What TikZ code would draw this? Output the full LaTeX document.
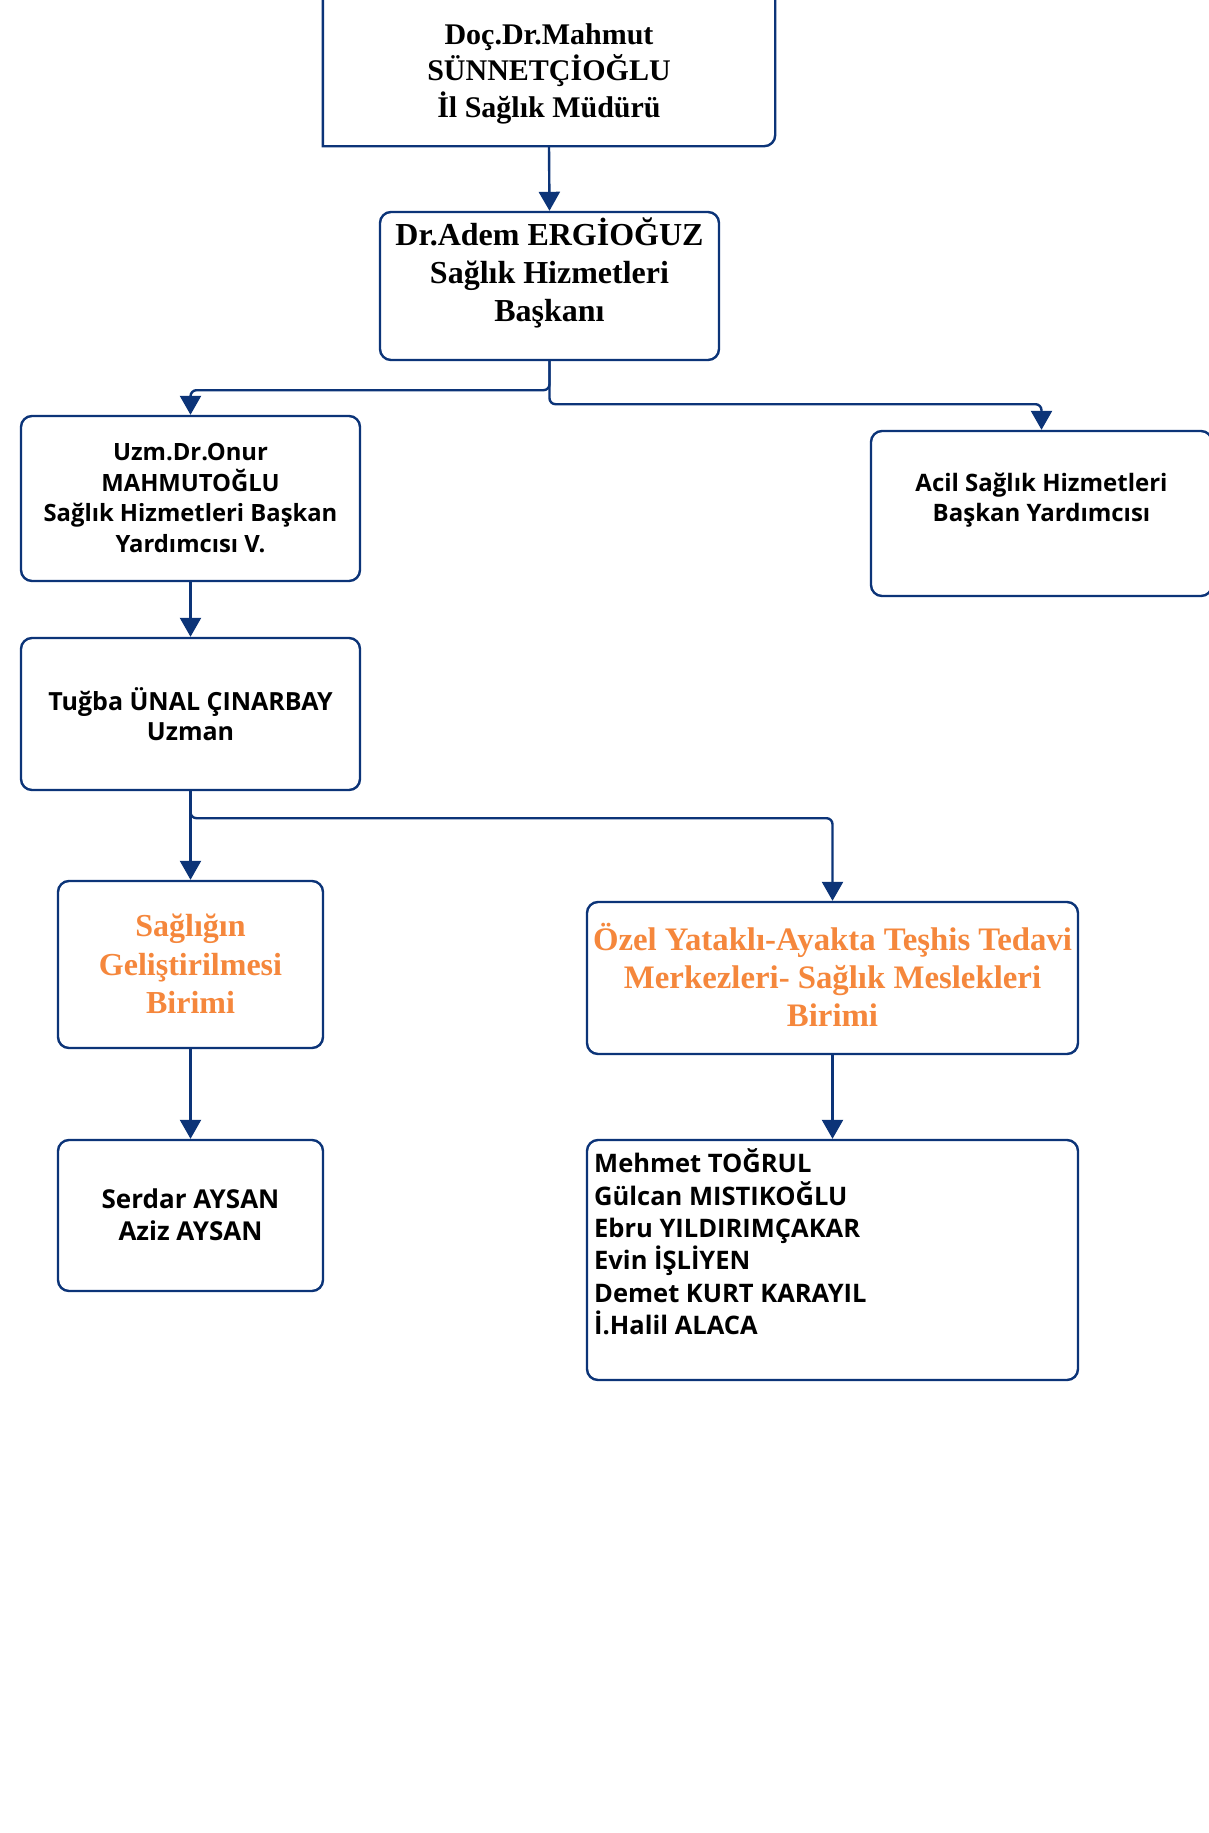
\documentclass[tikz,border=0pt]{standalone}
\usepackage{fontspec}
\setmainfont{Liberation Serif}
\newfontfamily\uifont{Open Sans}
\usetikzlibrary{arrows.meta}
\definecolor{navy}{RGB}{12,52,120}
\definecolor{orng}{RGB}{245,135,60}
\begin{document}
\begin{tikzpicture}[x=1pt,y=-1pt,
  box/.style={draw=navy, line width=2.4pt, rounded corners=11pt, inner sep=0pt},
  serif/.style={align=center, inner sep=0pt, font=\bfseries\fontsize{32}{38}\selectfont},
  sans/.style={align=center, inner sep=0pt, font=\uifont\bfseries\fontsize{24}{30.5}\selectfont},
  conn/.style={draw=navy, line width=2.4pt, rounded corners=6pt, -{Triangle[width=21pt,length=19pt]}}]
\fill[white] (0,0) rectangle (1208,1833);
\useasboundingbox (0,0) rectangle (1208,1833);
% boxes
\node[inner sep=0pt, minimum width=452pt, minimum height=170pt] (b1) at (549,61) {};
\draw[navy, line width=2.4pt] (b1.north east) -- ([yshift=11pt]b1.south east) arc[start angle=0, end angle=-90, radius=11pt] -- (b1.south west) -- (b1.north west);
\node[box, minimum width=339pt, minimum height=148pt] (b2) at (549.5,286) {};
\node[box, minimum width=339pt, minimum height=165pt] (b3) at (190.5,498.5) {};
\node[box, minimum width=341pt, minimum height=165pt] (b4) at (1041.5,513.5) {};
\node[box, minimum width=339pt, minimum height=152pt] (b5) at (190.5,714) {};
\node[box, minimum width=265pt, minimum height=167pt] (b6) at (190.5,964.5) {};
\node[box, minimum width=491pt, minimum height=152pt] (b7) at (832.5,978) {};
\node[box, minimum width=265pt, minimum height=151pt] (b8) at (190.5,1215.5) {};
\node[box, minimum width=491pt, minimum height=240pt] (b9) at (832.5,1260) {};
% texts
\node[serif, font=\bfseries\fontsize{30}{36.5}\selectfont] (t1) at (549,73.5) {Doç.Dr.Mahmut\\SÜNNETÇİOĞLU\\İl Sağlık Müdürü};
\node[serif] (t2) at (549.5,273) {Dr.Adem ERGİOĞUZ\\Sağlık Hizmetleri\\Başkanı};
\node[sans, font=\uifont\bfseries\fontsize{23.8}{30.4}\selectfont] (t3) at (190.5,498) {Uzm.Dr.Onur\\MAHMUTOĞLU\\Sağlık Hizmetleri Başkan\\Yardımcısı V.};
\node[sans, font=\uifont\bfseries\fontsize{24}{30.4}\selectfont] (t4) at (1041.5,500) {Acil Sağlık Hizmetleri\\Başkan Yardımcısı};
\node[sans, font=\uifont\bfseries\fontsize{25}{30.4}\selectfont] (t5) at (190.5,714) {Tuğba ÜNAL ÇINARBAY\\Uzman};
\node[serif, text=orng, font=\bfseries\fontsize{32}{38.5}\selectfont] (t6) at (190.5,964) {Sağlığın\\Geliştirilmesi\\Birimi};
\node[serif, text=orng, font=\bfseries\fontsize{32.8}{38.3}\selectfont] (t7) at (832.5,975) {Özel Yataklı-Ayakta Teşhis Tedavi\\Merkezleri- Sağlık Meslekleri\\Birimi};
\node[sans, font=\uifont\bfseries\fontsize{26}{31.6}\selectfont] (t8) at (190.5,1215) {Serdar AYSAN\\Aziz AYSAN};
\node[sans, align=left, anchor=west, font=\uifont\bfseries\fontsize{25.5}{32.4}\selectfont] (t9) at (594,1242) {Mehmet TOĞRUL\\Gülcan MISTIKOĞLU\\Ebru YILDIRIMÇAKAR\\Evin İŞLİYEN\\Demet KURT KARAYIL\\İ.Halil ALACA};
% connectors
\draw[conn] (b1.south) -- (b2.north);
\draw[conn] (b2.south) -- ++(0,29) -| (b3.north);
\draw[conn] (b2.south) -- ++(0,43) -| (b4.north);
\draw[conn] (b3.south) -- (b5.north);
\draw[conn] (b5.south) -- (b6.north);
\draw[conn] (b5.south) -- ++(0,27) -| (b7.north);
\draw[conn] (b6.south) -- (b8.north);
\draw[conn] (b7.south) -- (b9.north);
\end{tikzpicture}
\end{document}
